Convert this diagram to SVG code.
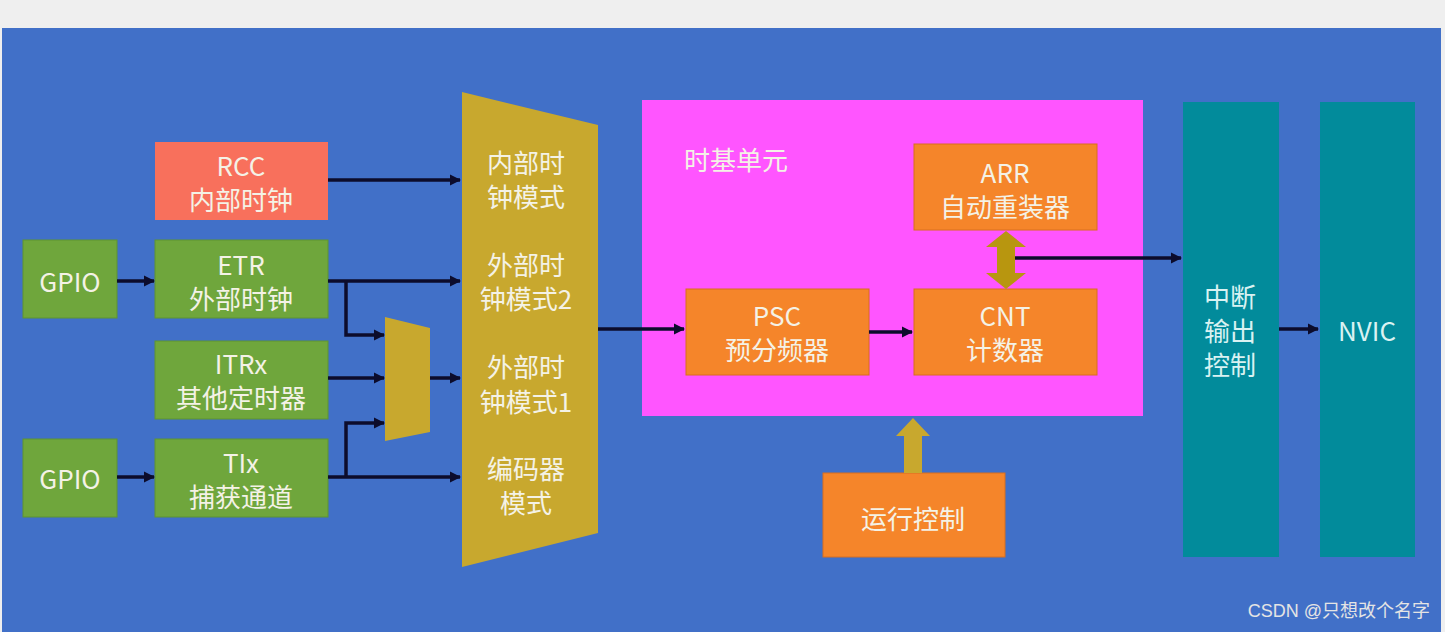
<svg xmlns="http://www.w3.org/2000/svg" width="1445" height="632" viewBox="0 0 1445 632">
<style>
.t{font-family:"Noto Sans CJK SC","Liberation Sans",sans-serif;font-size:26px;fill:#f4f2e6;text-anchor:middle;dominant-baseline:central}
.g{fill:#6fa63c;stroke:#5f9430;stroke-width:1}
.o{fill:#f5852a;stroke:#d86e1e;stroke-width:1}
.teal{fill:#028b9b}
.ln{fill:none;stroke:#0c0c2c;stroke-width:3.5;marker-end:url(#ah)}
</style>
<defs>
<marker id="ah" viewBox="0 0 10 10" refX="9" refY="5" markerWidth="3.2" markerHeight="3.2" markerUnits="strokeWidth" orient="auto">
<path d="M0,0 L10,5 L0,10 z" fill="#0c0c2c"/>
</marker>
</defs>
<rect x="0" y="0" width="1445" height="632" fill="#efefef"/>
<rect x="2" y="28" width="1439" height="604" fill="#4170c8"/>

<g id="rcc"><rect x="155" y="142" width="173" height="78" fill="#f8705c"/><text class="t" x="241" y="164">RCC</text><text class="t" x="241" y="198">内部时钟</text></g>
<g id="gpio1"><rect class="g" x="23" y="240" width="94" height="78"/><text class="t" x="70" y="280">GPIO</text></g>
<g id="etr"><rect class="g" x="155" y="240" width="173" height="78"/><text class="t" x="241" y="263">ETR</text><text class="t" x="241" y="297">外部时钟</text></g>
<g id="itrx"><rect class="g" x="155" y="341" width="173" height="78"/><text class="t" x="241" y="362">ITRx</text><text class="t" x="241" y="396">其他定时器</text></g>
<g id="gpio2"><rect class="g" x="23" y="439" width="94" height="78"/><text class="t" x="70" y="477">GPIO</text></g>
<g id="tix"><rect class="g" x="155" y="439" width="173" height="78"/><text class="t" x="241" y="461">TIx</text><text class="t" x="241" y="495">捕获通道</text></g>

<g id="smallmux"><polygon points="385,317 430,328 430,432 385,441" fill="#c8a82e"/></g>
<g id="bigmux"><polygon points="462,92 598,125 598,533 462,567" fill="#c8a82e"/>
<text class="t" x="526" y="161">内部时</text><text class="t" x="526" y="195">钟模式</text>
<text class="t" x="526" y="263">外部时</text><text class="t" x="526" y="297">钟模式2</text>
<text class="t" x="526" y="365">外部时</text><text class="t" x="526" y="400">钟模式1</text>
<text class="t" x="526" y="467">编码器</text><text class="t" x="526" y="501">模式</text></g>

<g id="timebase"><rect x="642" y="100" width="501" height="316" fill="#ff55ff"/><text class="t" x="684" y="158" style="text-anchor:start">时基单元</text></g>
<g id="arr"><rect class="o" x="914" y="144" width="183" height="86"/><text class="t" x="1005" y="171">ARR</text><text class="t" x="1005" y="205">自动重装器</text></g>
<g id="psc"><rect class="o" x="686" y="289" width="183" height="86"/><text class="t" x="777" y="314">PSC</text><text class="t" x="777" y="348">预分频器</text></g>
<g id="cnt"><rect class="o" x="914" y="289" width="183" height="86"/><text class="t" x="1005" y="314">CNT</text><text class="t" x="1005" y="348">计数器</text></g>
<g id="run"><rect class="o" x="823" y="473" width="182" height="84"/><text class="t" x="913" y="517">运行控制</text></g>
<g id="irq"><rect class="teal" x="1183" y="102" width="96" height="455"/><text class="t" x="1230" y="295" style="fill:#d9f2f2">中断</text><text class="t" x="1230" y="329" style="fill:#d9f2f2">输出</text><text class="t" x="1230" y="363" style="fill:#d9f2f2">控制</text></g>
<g id="nvic"><rect class="teal" x="1320" y="102" width="95" height="455"/><text class="t" x="1367" y="329" style="fill:#d9f2f2">NVIC</text></g>

<g id="connectors">
<path class="ln" d="M328,180 H460"/>
<path class="ln" d="M117,281 H154"/>
<path class="ln" d="M328,281 H460"/>
<path class="ln" d="M346,281 V335 H384"/>
<path class="ln" d="M328,378 H384"/>
<path class="ln" d="M430,378 H460"/>
<path class="ln" d="M117,477 H154"/>
<path class="ln" d="M328,477 H460"/>
<path class="ln" d="M346,477 V423 H384"/>
<path class="ln" d="M598,329 H684"/>
<path class="ln" d="M869,332 H912"/>
<path class="ln" d="M1010,258 H1181"/>
<path class="ln" d="M1279,329 H1318"/>
<polygon points="1006,231 1026,247 1015,247 1015,273 1026,273 1006,289 986,273 997,273 997,247 986,247" fill="#b8960f"/>
<polygon points="913,418 930,436 922,436 922,473 904,473 904,436 896,436" fill="#c8a82e"/>
</g>
<text x="1430" y="617" style="font-family:'Liberation Sans','Noto Sans CJK SC',sans-serif;font-size:18px;fill:#e4e4e4;text-anchor:end">CSDN @只想改个名字</text>
</svg>
